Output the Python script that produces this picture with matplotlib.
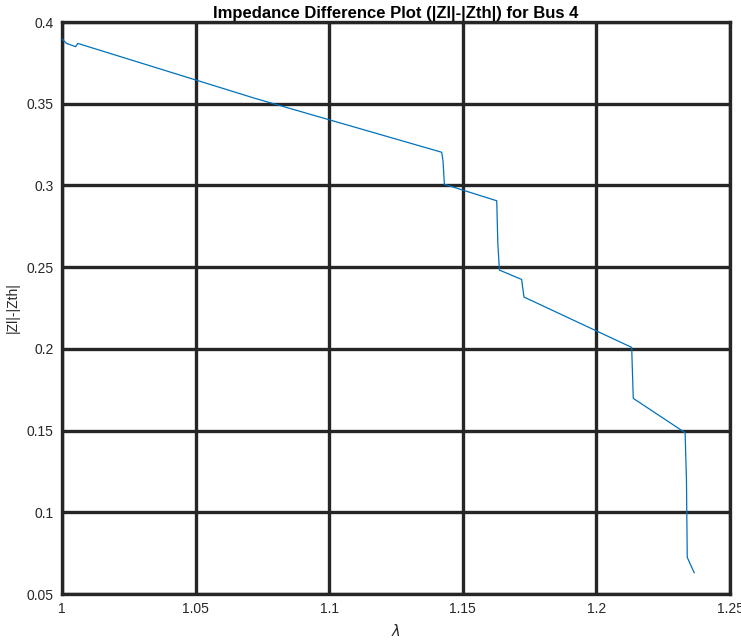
import matplotlib
matplotlib.use("Agg")
import matplotlib.pyplot as plt

# lambda values and |Zl|-|Zth|
lam = [1.0000, 1.0017, 1.0051, 1.0059, 1.0722, 1.1421, 1.1426, 1.1431,
       1.1627, 1.1631, 1.1637, 1.1720, 1.1729, 1.2132, 1.2138, 1.2332,
       1.2337, 1.2340, 1.2366]
zdiff = [0.3896, 0.3869, 0.3849, 0.3869, 0.3533, 0.3203, 0.3150, 0.3007,
         0.2906, 0.2650, 0.2482, 0.2425, 0.2317, 0.2009, 0.1697, 0.1487,
         0.1200, 0.0724, 0.0630]

xticks = [1, 1.05, 1.1, 1.15, 1.2, 1.25]
xticklabels = ['1', '1.05', '1.1', '1.15', '1.2', '1.25']
yticks = [0.05, 0.1, 0.15, 0.2, 0.25, 0.3, 0.35, 0.4]
yticklabels = ['0.05', '0.1', '0.15', '0.2', '0.25', '0.3', '0.35', '0.4']

plt.rcParams['font.family'] = ['Liberation Sans', 'DejaVu Sans']

fig = plt.figure(figsize=(7.41, 6.43), dpi=100)
ax = fig.add_axes([62/741, 49/643, 668/741, 572/643])

ax.plot(lam, zdiff, color='#0072BD', linewidth=0.9, zorder=3)

ax.set_xlim(1, 1.25)
ax.set_ylim(0.05, 0.4)
ax.set_xticks(xticks)
ax.set_xticklabels(xticklabels)
ax.set_yticks(yticks)
ax.set_yticklabels(yticklabels)
ax.tick_params(length=0, labelsize=10, colors='#262626', pad=6)

ax.grid(True, color='#262626', linewidth=2.4, alpha=1)
ax.set_axisbelow(True)
for s in ax.spines.values():
    s.set_color('#262626')
    s.set_linewidth(2.4)

ax.set_title('Impedance Difference Plot (|Zl|-|Zth|) for Bus 4',
             fontsize=12, fontweight='bold', pad=3)
ax.set_xlabel(r'$\lambda$', fontsize=10.5, labelpad=5, color='#262626')
ax.set_ylabel('|Zl|-|Zth|', fontsize=10, labelpad=5, color='#262626')

plt.savefig('out.png', dpi=100)
